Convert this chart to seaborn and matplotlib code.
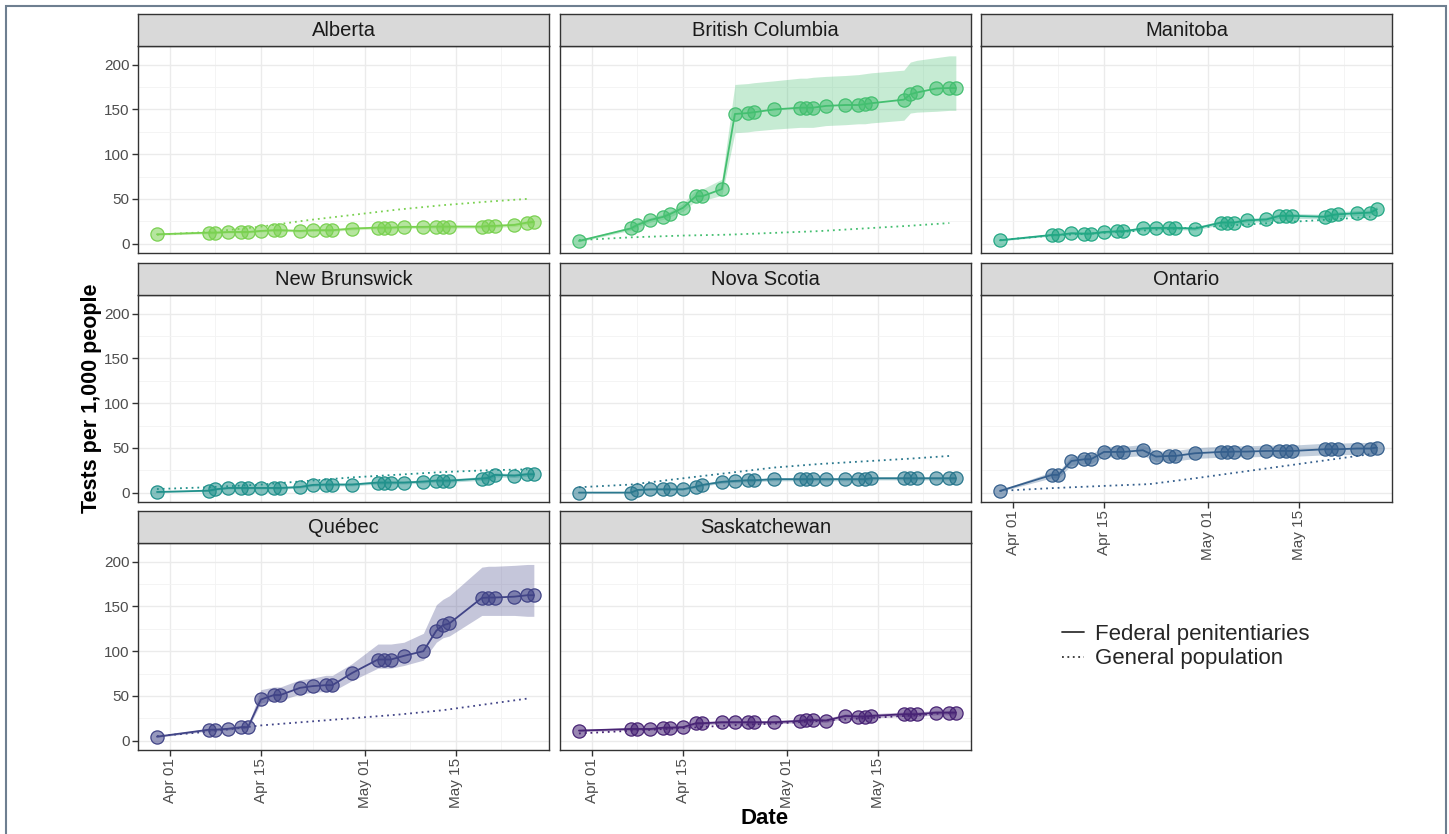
import numpy as np
import pandas as pd
import matplotlib
matplotlib.use('Agg')
import matplotlib.pyplot as plt
import matplotlib.dates as mdates
from matplotlib.colors import to_rgba
from matplotlib.lines import Line2D
from matplotlib.patches import Rectangle
import seaborn as sns

# DADOS
provinces = ['Alberta', 'British Columbia', 'Manitoba', 'New Brunswick',
             'Nova Scotia', 'Ontario', 'Québec', 'Saskatchewan']

test_dates = ['2020-03-30', '2020-04-07', '2020-04-08', '2020-04-10', '2020-04-12', '2020-04-13',
              '2020-04-15', '2020-04-17', '2020-04-18', '2020-04-21', '2020-04-23', '2020-04-25',
              '2020-04-26', '2020-04-29', '2020-05-03', '2020-05-04', '2020-05-05', '2020-05-07',
              '2020-05-10', '2020-05-12', '2020-05-13', '2020-05-14', '2020-05-19', '2020-05-20',
              '2020-05-21', '2020-05-24', '2020-05-26', '2020-05-27']

gen_dates = ['2020-03-30', '2020-04-07', '2020-04-15', '2020-04-22', '2020-04-29',
             '2020-05-06', '2020-05-13', '2020-05-20', '2020-05-26']

# penitenciarias federais: taxa, limite inferior, limite superior
alberta = [10.4, 12.3, 12.3, 13, 13, 13, 14.2, 15, 15, 14.2, 15, 15, 15, 16.8, 17.9, 17.9, 17.9, 18.7, 18.7, 19, 19, 19, 19, 19.8, 19.8, 20.9, 23.5, 24.3]
alberta_lo = [9.5, 11, 11, 11.8, 11.8, 11.8, 13, 13.7, 13.7, 13, 13.7, 13.7, 13.7, 15.3, 16.3, 16.3, 16.3, 17, 17, 17.3, 17.3, 17.3, 17.3, 18, 18, 19, 21.5, 22.3]
alberta_hi = [11.4, 13.7, 13.7, 14.3, 14.3, 14.3, 15.6, 16.5, 16.5, 15.6, 16.5, 16.5, 16.5, 18.4, 19.6, 19.6, 19.6, 20.5, 20.5, 20.8, 20.8, 20.8, 20.8, 21.7, 21.7, 22.9, 25.6, 26.4]

bc = [3, 17, 21, 26.5, 30, 33, 40, 53, 53, 61, 145, 146, 147, 150, 152, 152, 152, 154, 155, 155, 156, 157, 161, 167, 169, 173.5, 174, 174]
bc_lo = [2, 15, 19, 24, 27, 30, 36, 48, 48, 54, 124, 125, 126, 128, 130, 130, 130, 132, 133, 134, 134, 135, 138, 146, 147, 148, 149, 149]
bc_hi = [4, 19, 24, 29, 33, 36, 45, 60, 61, 72, 178, 179, 180, 182, 185, 185, 186, 187, 188, 189, 190, 191, 194, 203, 205, 208, 210, 210]

manitoba = [3.7, 9.7, 9.7, 11.6, 11.2, 11.2, 13, 13.8, 13.8, 17, 17.5, 17.5, 17.5, 16.8, 23.5, 23.5, 23.5, 26, 27, 31, 31, 31, 30, 31.7, 32.8, 34, 34.7, 38.4]
manitoba_lo = [3, 8.5, 8.5, 10.2, 9.9, 9.9, 11.5, 12.3, 12.3, 15.3, 15.7, 15.7, 15.7, 15, 21.3, 21.3, 21.3, 23.7, 24.6, 28.4, 28.4, 28.4, 27.4, 29, 30, 31.2, 31.8, 35.3]
manitoba_hi = [4.5, 11, 11, 13, 12.6, 12.6, 14.6, 15.4, 15.4, 18.8, 19.4, 19.4, 19.4, 18.7, 25.8, 25.8, 25.8, 28.4, 29.5, 33.7, 33.7, 33.7, 32.7, 34.5, 35.7, 37, 37.7, 41.6]

nb = [0.7, 2.2, 3.7, 5.2, 5.2, 5.2, 5.2, 5.2, 5.2, 6.3, 8.6, 9, 9, 9, 11.2, 11.2, 11.2, 11.2, 12.3, 13.4, 13.4, 13.4, 15.7, 16.4, 19.8, 19, 20.5, 20.5]
nb_lo = [0.2, 1.4, 2.7, 4, 4, 4, 4, 4, 4, 5, 7.1, 7.5, 7.5, 7.5, 9.6, 9.6, 9.6, 9.6, 10.6, 11.6, 11.6, 11.6, 13.8, 14.4, 17.6, 16.9, 18.3, 18.3]
nb_hi = [1.4, 3.2, 4.9, 6.6, 6.6, 6.6, 6.6, 6.6, 6.6, 7.8, 10.3, 10.7, 10.7, 10.7, 13, 13, 13, 13, 14.2, 15.4, 15.4, 15.4, 17.8, 18.6, 22.1, 21.3, 22.9, 22.9]

ns = [0, 0, 3, 3.7, 3.7, 3.7, 3.7, 6.7, 8.6, 12, 13, 13.8, 13.8, 15, 15, 15, 15, 15, 15, 15, 15, 16, 16, 16, 16, 16, 16, 16]
ns_lo = [0, 0, 2.1, 2.7, 2.7, 2.7, 2.7, 5.4, 7.2, 10.4, 11.3, 12.1, 12.1, 13.2, 13.2, 13.2, 13.2, 13.2, 13.2, 13.2, 13.2, 14.2, 14.2, 14.2, 14.2, 14.2, 14.2, 14.2]
ns_hi = [0.6, 0.6, 4, 4.8, 4.8, 4.8, 4.8, 8.1, 10.1, 13.7, 14.8, 15.6, 15.6, 16.9, 16.9, 16.9, 16.9, 16.9, 16.9, 16.9, 16.9, 17.9, 17.9, 17.9, 17.9, 17.9, 17.9, 17.9]

ontario = [1.9, 19.8, 19.8, 35.4, 37.3, 37.3, 45.5, 45.5, 45.5, 47.4, 40.3, 41, 41, 44, 45.5, 45.5, 45.9, 45.9, 46.6, 46.6, 46.6, 46.6, 48.5, 48.5, 48.5, 49.3, 49.3, 50.4]
ontario_lo = [1.2, 16.5, 16.5, 30.5, 32.3, 32.3, 39.8, 39.8, 39.8, 41.5, 34.8, 35.4, 35.4, 38.2, 39.6, 39.6, 39.9, 39.9, 40.5, 40.5, 40.5, 40.5, 42.2, 42.2, 42.2, 42.9, 42.9, 43.9]
ontario_hi = [2.8, 23.4, 23.4, 40.6, 42.7, 42.7, 51.7, 51.7, 51.7, 53.8, 46.2, 47, 47, 50.2, 51.8, 51.8, 52.3, 52.3, 53.1, 53.1, 53.1, 53.1, 55.2, 55.2, 55.2, 56.1, 56.1, 57.3]

quebec = [4.4, 12.2, 12.2, 13.3, 15, 15, 46, 51, 51, 59, 61, 62, 62, 75.5, 90.7, 90.7, 90.7, 94.8, 100, 123, 129, 131, 159.6, 160, 160, 161, 162.6, 162.6]
quebec_lo = [3.6, 10.8, 10.8, 11.8, 13.4, 13.4, 42, 45, 45, 52, 54, 55, 55, 67, 81, 81, 81, 84, 90, 110, 115, 117, 140, 140, 140, 140, 139, 139]
quebec_hi = [5.3, 13.7, 13.7, 14.9, 16.7, 16.7, 57, 60, 60, 68, 70, 73, 73, 86, 108, 108, 108, 110, 120, 152, 158, 162, 194, 195, 195, 196, 197, 197]

sask = [11.2, 13, 13, 13, 14.5, 14.5, 15, 19.4, 19.4, 20.5, 20.5, 20.5, 20.5, 20.5, 22, 23, 23, 22.4, 27.6, 26.9, 26.9, 27.6, 29.5, 29.5, 29.5, 31.3, 31.3, 31.3]
sask_lo = [10, 11.6, 11.6, 11.6, 13, 13, 13.4, 17.6, 17.6, 18.6, 18.6, 18.6, 18.6, 18.6, 20, 20.9, 20.9, 20.3, 25.3, 24.6, 24.6, 25.3, 27.1, 27.1, 27.1, 28.8, 28.8, 28.8]
sask_hi = [12.5, 14.5, 14.5, 14.5, 16.1, 16.1, 16.7, 21.3, 21.3, 22.5, 22.5, 22.5, 22.5, 22.5, 24.1, 25.2, 25.2, 24.6, 30, 29.3, 29.3, 30, 32, 32, 32, 33.9, 33.9, 33.9]

# populacao geral (linha pontilhada)
gen_alberta = [10, 13, 19, 26, 32, 38, 43, 47, 50]
gen_bc = [4, 7, 9, 10, 12, 14, 17, 20, 23]
gen_manitoba = [4, 9, 12, 15, 18, 21, 24, 27, 30]
gen_nb = [4, 6, 9, 13, 17, 20, 23, 25, 26]
gen_ns = [6, 9, 16, 22, 28, 32, 35, 38, 41]
gen_ontario = [2, 5, 7.5, 9.5, 16, 23, 30, 37, 43]
gen_quebec = [5, 10, 17, 21, 25, 29, 34, 41, 47]
gen_sask = [8, 11, 14, 17, 19, 22, 25, 28, 31]

prison_rates = [alberta, bc, manitoba, nb, ns, ontario, quebec, sask]
prison_lo = [alberta_lo, bc_lo, manitoba_lo, nb_lo, ns_lo, ontario_lo, quebec_lo, sask_lo]
prison_hi = [alberta_hi, bc_hi, manitoba_hi, nb_hi, ns_hi, ontario_hi, quebec_hi, sask_hi]
gen_rates = [gen_alberta, gen_bc, gen_manitoba, gen_nb, gen_ns, gen_ontario, gen_quebec, gen_sask]

# MONTANDO OS DATAFRAMES EM FORMATO LONGO
df_prison = pd.concat([
    pd.DataFrame({'province': p, 'date': pd.to_datetime(test_dates), 'rate': r, 'lower': lo, 'upper': hi})
    for p, r, lo, hi in zip(provinces, prison_rates, prison_lo, prison_hi)])
df_gen = pd.concat([
    pd.DataFrame({'province': p, 'date': pd.to_datetime(gen_dates), 'rate': r})
    for p, r in zip(provinces, gen_rates)])

# CONFIGURACAO GERAL
sns.set_theme(style='white')
plt.rcParams['font.family'] = ['Liberation Sans', 'DejaVu Sans']

W, H = 1449, 834
fig = plt.figure(figsize=(W / 100, H / 100), dpi=100)
fig.patch.set_facecolor('white')

palette = sns.color_palette('viridis', as_cmap=True)
cores = [palette(v) for v in np.linspace(0.8, 0.1, len(provinces))]

col_x = [138, 560, 981]
row_top = [46, 295, 543]
pw, ph, sh = 411, 207, 32

major_x = pd.to_datetime(['2020-04-01', '2020-04-15', '2020-05-01', '2020-05-15'])
minor_x = pd.to_datetime(['2020-04-08', '2020-04-23', '2020-05-08', '2020-05-22'])
xlim = (mdates.date2num(pd.Timestamp('2020-03-27 02:00')), mdates.date2num(pd.Timestamp('2020-05-29 08:00')))

for i, prov in enumerate(provinces):
    r, c = divmod(i, 3)
    x0, top = col_x[c], row_top[r]
    cor = cores[i]
    ax = fig.add_axes([x0 / W, 1 - (top + ph) / H, pw / W, ph / H])
    sub = df_prison[df_prison['province'] == prov]
    sub_gen = df_gen[df_gen['province'] == prov]

    ax.fill_between(sub['date'], sub['lower'], sub['upper'], color=cor, alpha=0.3, lw=0, zorder=2)
    sns.lineplot(data=sub_gen, x='date', y='rate', ax=ax, color=cor, lw=1.3,
                 linestyle=(0, (1, 2.2)), estimator=None, zorder=3)
    sns.lineplot(data=sub, x='date', y='rate', ax=ax, color=cor, lw=1.3, estimator=None, zorder=4)
    sns.scatterplot(data=sub, x='date', y='rate', ax=ax, color=cor, s=90,
                    facecolor=to_rgba(cor, 0.55), edgecolor=cor, linewidth=0.9, zorder=5)

    ax.set_xticks(major_x)
    ax.set_xticks(minor_x, minor=True)
    ax.set_yticks([0, 50, 100, 150, 200])
    ax.set_yticks([25, 75, 125, 175], minor=True)
    ax.set_xlim(xlim)
    ax.set_ylim(-10.5, 221)
    ax.xaxis.set_major_formatter(mdates.DateFormatter('%b %d'))
    ax.grid(which='major', color='#EBEBEB', lw=1.0, zorder=0)
    ax.grid(which='minor', color='#F3F3F3', lw=0.6, zorder=0)
    ax.set_axisbelow(True)
    ax.set(xlabel='', ylabel='')
    for s in ax.spines.values():
        s.set_color('#333333')
        s.set_linewidth(1.0)

    show_x = (r == 2) or (i == 5)
    show_y = (c == 0)
    ax.tick_params(which='major', length=4, width=1, color='#333333', labelsize=11, labelcolor='#4D4D4D',
                   bottom=show_x, labelbottom=show_x, left=show_y, labelleft=show_y, pad=2)
    ax.tick_params(which='minor', length=0)
    if show_x:
        for lab in ax.get_xticklabels():
            lab.set_rotation(90)

    # faixa com o nome da provincia
    strip = fig.add_axes([x0 / W, 1 - top / H, pw / W, sh / H])
    strip.set_facecolor('#D9D9D9')
    strip.set_xticks([])
    strip.set_yticks([])
    for s in strip.spines.values():
        s.set_color('#333333')
        s.set_linewidth(1.0)
    strip.text(0.5, 0.47, prov, ha='center', va='center', fontsize=14.5, color='#1A1A1A',
               transform=strip.transAxes)

# TITULOS DOS EIXOS
fig.text(91 / W, 1 - 398 / H, 'Tests per 1,000 people', rotation=90, ha='center', va='center',
         fontsize=15.5, fontweight='bold', color='black')
fig.text(765 / W, 1 - 819 / H, 'Date', ha='center', va='center', fontsize=16, fontweight='bold', color='black')

# LEGENDA
handles = [Line2D([], [], color='#333333', lw=1.3),
           Line2D([], [], color='#333333', lw=1.3, linestyle=(0, (1, 2)))]
fig.legend(handles, ['Federal penitentiaries', 'General population'], loc='upper left',
           bbox_to_anchor=(1062 / W, 1 - 624 / H), frameon=False, fontsize=16, handlelength=1.0,
           handletextpad=0.5, labelspacing=0.15, borderpad=0, borderaxespad=0)

# MOLDURA EXTERNA
fig.add_artist(Rectangle((6 / W, -0.05), 1440 / W, 1.05 - 6 / H, fill=False, ec='#6E7F90', lw=1.5,
                         transform=fig.transFigure))

fig.savefig('out.png', dpi=100, facecolor='white')
